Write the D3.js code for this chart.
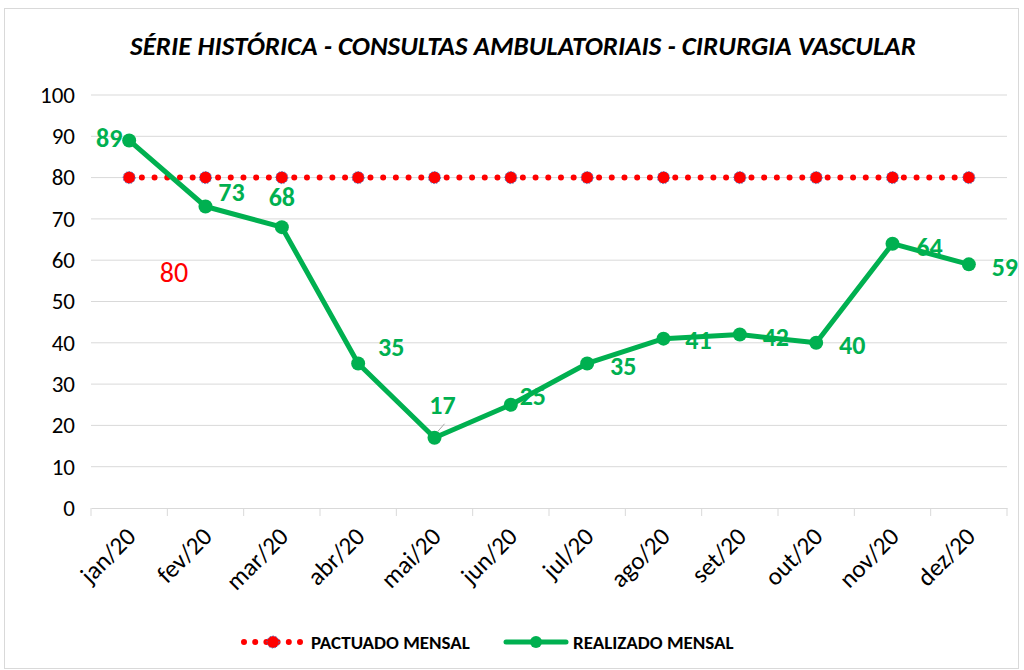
<!DOCTYPE html>
<html>
<head>
<meta charset="utf-8">
<script src="https://cdn.jsdelivr.net/npm/d3@7"></script>
<style>
  body { margin: 0; background: #fff; }
  svg, svg text { font-family: Carlito, "Liberation Sans Narrow", "Open Sans", sans-serif; }
</style>
</head>
<body>
<div id="chart"></div>
<script>
// chart values
const months = ['jan/20', 'fev/20', 'mar/20', 'abr/20', 'mai/20', 'jun/20', 'jul/20', 'ago/20', 'set/20', 'out/20', 'nov/20', 'dez/20'];
const pactuado = [80, 80, 80, 80, 80, 80, 80, 80, 80, 80, 80, 80];
const realizado = [89, 73, 68, 35, 17, 25, 35, 41, 42, 40, 64, 59];
const yTicks = [0, 10, 20, 30, 40, 50, 60, 70, 80, 90, 100];
// label offsets for realizado values (dx, dy from point)
const labelOffsets = [[-20, -3], [26, -15], [0, -30], [33, -17], [8, -33], [22, -9], [36, 2], [35, 1], [36, 2], [36, 2], [37, 3], [36, 3]];

const width = 1024, height = 670;
const margin = { top: 95, right: 17, bottom: 162, left: 91 };

const svg = d3.select('#chart').append('svg')
  .attr('width', width)
  .attr('height', height);

svg.append('rect')
  .attr('x', 4.5).attr('y', 8.5)
  .attr('width', 1014).attr('height', 660)
  .attr('fill', '#fff')
  .attr('stroke', '#d9d9d9');

const x = d3.scaleBand().domain(months).range([margin.left, width - margin.right]);
const y = d3.scaleLinear().domain([0, 100]).range([height - margin.bottom, margin.top]);
const cx = d => x(d) + x.bandwidth() / 2;

// grid
svg.append('g')
  .selectAll('line')
  .data(yTicks.slice(1))
  .enter().append('line')
  .attr('x1', margin.left).attr('x2', width - margin.right)
  .attr('y1', d => y(d)).attr('y2', d => y(d))
  .attr('stroke', '#d9d9d9').attr('stroke-width', 1);

// y axis
const yAxis = svg.append('g')
  .attr('transform', `translate(${margin.left - 16},0)`)
  .call(d3.axisLeft(y).tickValues(yTicks).tickSize(0).tickPadding(0))
  .attr('font-family', null);
yAxis.select('.domain').remove();
yAxis.selectAll('text').style('font-size', '23px').attr('fill', '#000');

// x axis
const xAxis = svg.append('g')
  .attr('transform', `translate(0,${y(0)})`)
  .call(d3.axisBottom(x).tickSize(0).tickPadding(0))
  .attr('font-family', null);
xAxis.select('.domain').attr('stroke', '#d9d9d9');
xAxis.selectAll('text')
  .style('font-size', '25px')
  .attr('fill', '#000')
  .attr('text-anchor', 'end')
  .attr('dy', 0)
  .attr('transform', 'translate(8,30) rotate(-45)');
// tick marks at category boundaries
svg.append('g')
  .selectAll('line')
  .data(months.concat(['end']))
  .enter().append('line')
  .attr('x1', (d, i) => margin.left + i * x.bandwidth())
  .attr('x2', (d, i) => margin.left + i * x.bandwidth())
  .attr('y1', y(0)).attr('y2', y(0) + 8)
  .attr('stroke', '#d9d9d9');

// title
svg.append('text')
  .attr('x', 523).attr('y', 55)
  .attr('text-anchor', 'middle')
  .style('font-size', '27px')
  .style('font-weight', 'bold')
  .style('font-style', 'italic')
  .text('SÉRIE HISTÓRICA - CONSULTAS AMBULATORIAIS - CIRURGIA VASCULAR');

// pactuado line (dotted)
const line = d3.line().x((d, i) => cx(months[i])).y(d => y(d));
svg.append('path')
  .datum(pactuado)
  .attr('d', line)
  .attr('fill', 'none')
  .attr('stroke', '#ff0000')
  .attr('stroke-width', 6)
  .attr('stroke-linecap', 'round')
  .attr('stroke-dasharray', '0 12.7');
svg.append('g')
  .selectAll('circle')
  .data(pactuado)
  .enter().append('circle')
  .attr('cx', (d, i) => cx(months[i]))
  .attr('cy', d => y(d))
  .attr('r', 6)
  .attr('fill', '#ff0000')
  .attr('stroke', '#4472c4')
  .attr('stroke-width', 1)
  .attr('stroke-dasharray', '1.5 1.5');
svg.append('text')
  .attr('x', 174).attr('y', 282)
  .attr('text-anchor', 'middle')
  .attr('fill', '#ff0000')
  .style('font-size', '28px')
  .text(pactuado[0]);

// realizado line
svg.append('path')
  .datum(realizado)
  .attr('d', line)
  .attr('fill', 'none')
  .attr('stroke', '#00b050')
  .attr('stroke-width', 5)
  .attr('stroke-linejoin', 'round');
svg.append('g')
  .selectAll('circle')
  .data(realizado)
  .enter().append('circle')
  .attr('cx', (d, i) => cx(months[i]))
  .attr('cy', d => y(d))
  .attr('r', 7)
  .attr('fill', '#00b050');
// leader line for 17
svg.append('line')
  .attr('x1', cx(months[4]) + 3).attr('y1', y(realizado[4]) - 6)
  .attr('x2', cx(months[4]) + 10).attr('y2', y(realizado[4]) - 14)
  .attr('stroke', '#a6a6a6').attr('stroke-width', 1);
svg.append('g')
  .selectAll('text')
  .data(realizado)
  .enter().append('text')
  .attr('x', (d, i) => cx(months[i]) + labelOffsets[i][0])
  .attr('y', (d, i) => y(d) + labelOffsets[i][1])
  .attr('dy', '0.35em')
  .attr('text-anchor', 'middle')
  .attr('fill', '#00b050')
  .style('font-size', '26px')
  .style('font-weight', 'bold')
  .text(d => d);

// legend
const lg = svg.append('g').attr('transform', 'translate(0,642)');
lg.append('line')
  .attr('x1', 244).attr('x2', 300).attr('y1', 0).attr('y2', 0)
  .attr('stroke', '#ff0000').attr('stroke-width', 6)
  .attr('stroke-linecap', 'round').attr('stroke-dasharray', '0 11.2');
lg.append('circle')
  .attr('cx', 273).attr('cy', 0).attr('r', 6)
  .attr('fill', '#ff0000').attr('stroke', '#4472c4')
  .attr('stroke-width', 1).attr('stroke-dasharray', '1.5 1.5');
lg.append('text')
  .attr('x', 311).attr('y', 0).attr('dy', '0.35em')
  .style('font-size', '19px').style('font-weight', 'bold')
  .text('PACTUADO MENSAL');
lg.append('line')
  .attr('x1', 506).attr('x2', 566).attr('y1', 0).attr('y2', 0)
  .attr('stroke', '#00b050').attr('stroke-width', 5).attr('stroke-linecap', 'round');
lg.append('circle')
  .attr('cx', 536).attr('cy', 0).attr('r', 6).attr('fill', '#00b050');
lg.append('text')
  .attr('x', 573).attr('y', 0).attr('dy', '0.35em')
  .style('font-size', '19px').style('font-weight', 'bold')
  .text('REALIZADO MENSAL');
</script>
</body>
</html>
